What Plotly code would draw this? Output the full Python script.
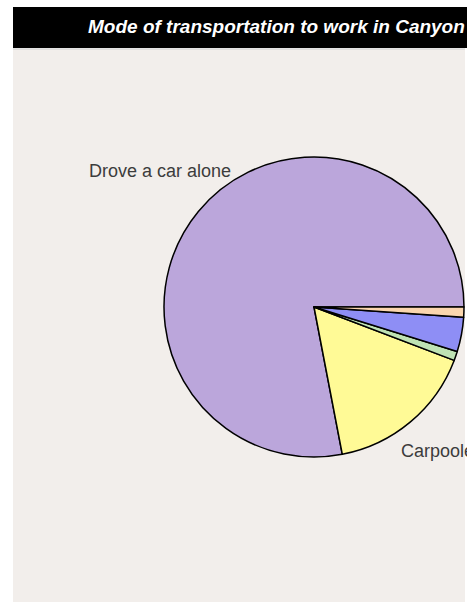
import math
import plotly.graph_objects as go

W, H = 467, 602

labels = ["Drove a car alone", "Carpooled", "Walked", "Worked at home", "Other means"]
values = [78.1, 16.2, 1.0, 3.7, 1.1]
colors = ["#BBA6DB", "#FFFA96", "#BFE3B4", "#8E8EF5", "#FAD6AE"]
# only these slice labels fall inside the visible (cropped) area
shown = [True, True, False, False, False]

title_text = "Mode of transportation to work in Canyon County, Idaho"

# pie geometry in pixels (center and radius)
CX, CY, R = 314, 307, 150
LABEL_DIST = 1.33  # label centre distance, as a multiple of the radius
LABEL_LIFT = 9     # px, text baseline lift

def px_x(x):
    return x / W

def px_y(y):
    return 1 - y / H

total = sum(values)
# first slice (drawn counterclockwise) must end at 3 o'clock
rotation = 90 + 360 * (total - values[0]) / total

fig = go.Figure()
fig.add_trace(go.Pie(
    labels=labels,
    values=values,
    sort=False,
    direction="counterclockwise",
    rotation=rotation,
    marker=dict(colors=colors, line=dict(color="#000000", width=1.5)),
    textinfo="none",
    hoverinfo="label+percent",
    domain=dict(x=[px_x(CX - R), px_x(CX + R)], y=[px_y(CY + R), px_y(CY - R)]),
    showlegend=False,
))

# slice labels placed along each slice's mid-angle (counterclockwise from 3 o'clock)
start = 0.0
for lab, val, show in zip(labels, values, shown):
    span = 360 * val / total
    mid = math.radians(start + span / 2)
    start += span
    if not show:
        continue
    lx = CX + LABEL_DIST * R * math.cos(mid)
    ly = CY - LABEL_DIST * R * math.sin(mid)
    fig.add_annotation(
        text=lab, xref="paper", yref="paper", x=px_x(lx), y=px_y(ly),
        xanchor="center", yanchor="middle", showarrow=False, yshift=LABEL_LIFT,
        font=dict(family="Liberation Sans, Arial, sans-serif", size=18, color="#3C3C3C"),
    )

shapes = [
    dict(type="rect", xref="paper", yref="paper",
         x0=px_x(13), x1=px_x(465), y0=px_y(602) - 0.01, y1=px_y(49),
         fillcolor="#F2EEEB", line=dict(width=0), layer="below"),
    dict(type="rect", xref="paper", yref="paper",
         x0=px_x(13), x1=1.01, y0=px_y(48), y1=px_y(7),
         fillcolor="#000000", line=dict(width=0), layer="below"),
    dict(type="line", xref="paper", yref="paper",
         x0=px_x(13), x1=px_x(465), y0=px_y(49), y1=px_y(49),
         line=dict(color="#DADADA", width=1.5), layer="below"),
]

fig.add_annotation(
    text="<b><i>" + title_text + "</i></b>",
    xref="paper", yref="paper", x=px_x(86), y=px_y(26.5),
    xanchor="left", yanchor="middle", showarrow=False,
    font=dict(family="Liberation Sans, Arial, sans-serif", size=19, color="#FFFFFF"),
)

fig.update_layout(
    width=W, height=H,
    margin=dict(l=0, r=0, t=0, b=0, autoexpand=False),
    paper_bgcolor="#FFFFFF",
    plot_bgcolor="#FFFFFF",
    shapes=shapes,
)

fig.write_html("out.html", config={"displayModeBar": False},
               post_script="document.body.style.margin='0';")
